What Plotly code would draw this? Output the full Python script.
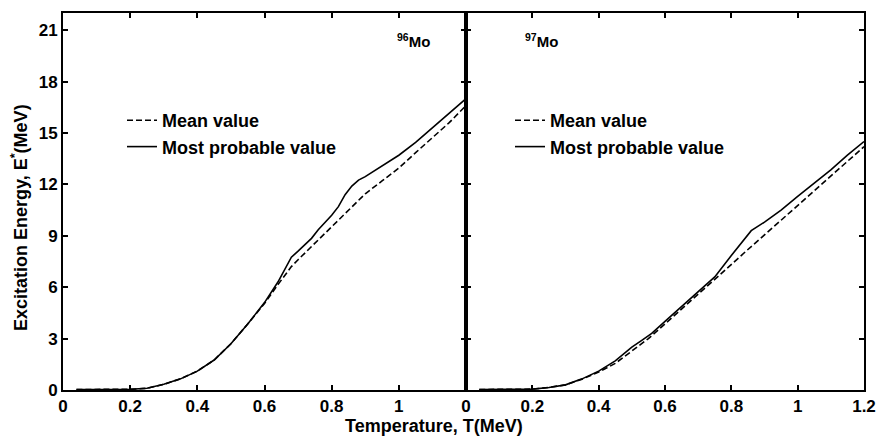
import plotly.graph_objects as go

# ---------------- data ----------------
# 96Mo (left panel)
T_96_mp = [0.04, 0.1, 0.2, 0.25, 0.3, 0.35, 0.4, 0.45, 0.5, 0.55, 0.6, 0.64, 0.66, 0.68, 0.7,
           0.74, 0.76, 0.8, 0.82, 0.84, 0.86, 0.88, 0.9, 0.95, 1.0, 1.05, 1.1, 1.15, 1.2]
E_96_mp = [0.03, 0.03, 0.04, 0.1, 0.33, 0.65, 1.1, 1.75, 2.7, 3.85, 5.1, 6.3, 7.0, 7.75, 8.1,
           8.85, 9.35, 10.2, 10.7, 11.4, 11.9, 12.25, 12.45, 13.05, 13.7, 14.45, 15.3, 16.15, 17.0]
T_96_mean = [0.04, 0.1, 0.2, 0.25, 0.3, 0.35, 0.4, 0.45, 0.5, 0.55, 0.6, 0.64, 0.68, 0.7, 0.75,
             0.8, 0.85, 0.9, 0.95, 1.0, 1.05, 1.1, 1.15, 1.2]
E_96_mean = [0.03, 0.03, 0.04, 0.1, 0.33, 0.65, 1.1, 1.75, 2.7, 3.85, 5.05, 6.15, 7.2, 7.6, 8.55,
             9.5, 10.5, 11.45, 12.2, 12.95, 13.85, 14.7, 15.6, 16.6]

# 97Mo (right panel)
T_97_mp = [0.04, 0.1, 0.2, 0.25, 0.3, 0.35, 0.4, 0.45, 0.5, 0.53, 0.56, 0.6, 0.65, 0.7, 0.75,
           0.8, 0.86, 0.9, 0.95, 1.0, 1.05, 1.1, 1.15, 1.2]
E_97_mp = [0.03, 0.03, 0.05, 0.15, 0.3, 0.65, 1.1, 1.7, 2.5, 2.9, 3.3, 4.0, 4.85, 5.7, 6.6,
           7.85, 9.3, 9.8, 10.5, 11.3, 12.05, 12.85, 13.7, 14.5]
T_97_mean = [0.04, 0.1, 0.2, 0.25, 0.3, 0.35, 0.4, 0.45, 0.5, 0.55, 0.6, 0.65, 0.7, 0.75,
             0.8, 0.85, 0.9, 0.95, 1.0, 1.05, 1.1, 1.15, 1.2]
E_97_mean = [0.03, 0.03, 0.05, 0.15, 0.3, 0.63, 1.05, 1.55, 2.3, 3.0, 3.85, 4.75, 5.6, 6.45,
             7.35, 8.2, 9.05, 9.9, 10.8, 11.65, 12.5, 13.35, 14.2]

y_ticks = [0, 3, 6, 9, 12, 15, 18, 21]
x_ticks = [0, 0.2, 0.4, 0.6, 0.8, 1, 1.2]
x_ticktext_left = ["0", "0.2", "0.4", "0.6", "0.8", "1", ""]
x_ticktext_right = ["0", "0.2", "0.4", "0.6", "0.8", "1", "1.2"]

series_names = ["Mean value", "Most probable value"]
panel_labels = ["<sup>96</sup>Mo", "<sup>97</sup>Mo"]

# ---------------- figure ----------------
FONT = "Liberation Sans, Arial, sans-serif"
fig = go.Figure()

fig.add_trace(go.Scatter(x=T_96_mean, y=E_96_mean, mode="lines", name=series_names[0],
                         line=dict(color="black", width=1.6, dash="6px,3px"),
                         xaxis="x", yaxis="y", legend="legend"))
fig.add_trace(go.Scatter(x=T_96_mp, y=E_96_mp, mode="lines", name=series_names[1],
                         line=dict(color="black", width=1.6),
                         xaxis="x", yaxis="y", legend="legend"))
fig.add_trace(go.Scatter(x=T_97_mean, y=E_97_mean, mode="lines", name=series_names[0],
                         line=dict(color="black", width=1.6, dash="6px,3px"),
                         xaxis="x2", yaxis="y2", legend="legend2"))
fig.add_trace(go.Scatter(x=T_97_mp, y=E_97_mp, mode="lines", name=series_names[1],
                         line=dict(color="black", width=1.6),
                         xaxis="x2", yaxis="y2", legend="legend2"))

L, R, T, B = 63, 18, 13, 47
W, H = 882, 437
pw = W - L - R
ph = H - T - B
split = (466 - L) / pw

axis_common = dict(showline=True, linecolor="black", linewidth=2, mirror="ticks",
                   ticks="inside", ticklen=5, tickwidth=1.5, tickcolor="black",
                   showgrid=False, zeroline=False, automargin=False)
xfont = dict(family=FONT, size=17, color="black", weight="bold")
yfont = dict(family=FONT, size=17, color="black", weight="bold")

fig.update_layout(
    width=W, height=H, autosize=False,
    margin=dict(l=L, r=R, t=T, b=B, pad=0, autoexpand=False),
    paper_bgcolor="white", plot_bgcolor="white",
    xaxis=dict(domain=[0, split], range=[0, 1.2], tickvals=x_ticks, ticktext=x_ticktext_left,
               anchor="y", tickfont=xfont, **axis_common),
    xaxis2=dict(domain=[split, 1], range=[0, 1.2], tickvals=x_ticks, ticktext=x_ticktext_right,
                anchor="y2", tickfont=xfont, **axis_common),
    yaxis=dict(range=[0, 22], tickvals=y_ticks, anchor="x", tickfont=yfont, **axis_common),
    yaxis2=dict(range=[0, 22], tickvals=y_ticks, anchor="x2", matches="y",
                showticklabels=False, tickfont=yfont, **axis_common),
    legend=dict(x=(122 - L) / pw, y=1 - (102 - T) / ph, xanchor="left", yanchor="top",
                bgcolor="rgba(0,0,0,0)", borderwidth=0,
                font=dict(family=FONT, size=18, color="black", weight="bold")),
    legend2=dict(x=(510 - L) / pw, y=1 - (102 - T) / ph, xanchor="left", yanchor="top",
                 bgcolor="rgba(0,0,0,0)", borderwidth=0,
                 font=dict(family=FONT, size=18, color="black", weight="bold")),
    showlegend=True,
)

fig.add_annotation(text=panel_labels[0], xref="x", yref="y", x=1.045, y=20.4,
                   showarrow=False, xanchor="center", yanchor="middle",
                   font=dict(family=FONT, size=15, color="black", weight="bold"))
fig.add_annotation(text=panel_labels[1], xref="x2", yref="y2", x=0.228, y=20.4,
                   showarrow=False, xanchor="center", yanchor="middle",
                   font=dict(family=FONT, size=15, color="black", weight="bold"))

fig.add_annotation(text="Temperature, T(MeV)", xref="paper", yref="paper",
                   x=(434 - L) / pw, y=-(426 - (H - B)) / ph,
                   showarrow=False, xanchor="center", yanchor="middle",
                   font=dict(family=FONT, size=18, color="black", weight="bold"))
fig.add_annotation(text="Excitation Energy, E<sup>*</sup>(MeV)", xref="paper", yref="paper",
                   x=(20 - L) / pw, y=1 - (218 - T) / ph, textangle=-90,
                   showarrow=False, xanchor="center", yanchor="middle",
                   font=dict(family=FONT, size=18, color="black", weight="bold"))

fig.write_html("out.html", config={"displayModeBar": False},
               post_script="document.body.style.margin='0px';document.body.style.overflow='hidden';")
